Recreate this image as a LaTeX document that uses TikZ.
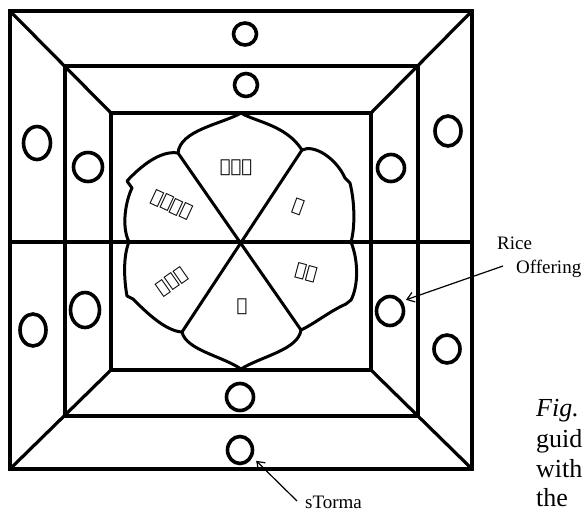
\documentclass[tikz,border=0pt]{standalone}
\usepackage{fontspec}
\setmainfont{Liberation Serif}
\usetikzlibrary{arrows.meta,calc,shapes.geometric}
\newfontfamily\tibfont{DejaVu Sans}
\begin{document}
\begin{tikzpicture}[x=1pt,y=-1pt]
\tikzset{
 sqline/.style={line width=3.2pt, line join=miter},
 torma/.style={ellipse, draw, line width=3.6pt, minimum width=25pt, minimum height=25pt, inner sep=0pt},
 petal/.style={line width=3pt, line join=round},
 lbl/.style={font=\fontsize{19}{19}\selectfont, anchor=base west, inner sep=0pt},
 pagetext/.style={font=\fontsize{26}{26}\selectfont, anchor=base west, inner sep=0pt},
 pointer/.style={line width=1.2pt, -{Straight Barb[length=7pt,width=10pt]}},
 syll/.style={font=\tibfont\fontsize{18}{18}\selectfont, inner sep=0pt},
}
\useasboundingbox (0,0) rectangle (582,512);
\fill[white] (0,0) rectangle (582,512);
% squares
\draw[sqline] (10,11) rectangle (472,469);
\draw[sqline] (65,66) rectangle (418,416);
\draw[sqline] (111,113) rectangle (371,370);
\draw[sqline] (10,11) -- (111,113);
\draw[sqline] (472,11) -- (371,113);
\draw[sqline] (10,469) -- (111,370);
\draw[sqline] (472,469) -- (371,370);
\draw[sqline] (10,242) -- (472,242);
% lotus
\draw[petal] (241,113)
 .. controls (256,122) and (286,125) .. (302,150)
 .. controls (314,144) and (336,158) .. (345,178)
 -- (350,183)
 .. controls (355,203) and (355,228) .. (351,242)
 .. controls (359,262) and (358,287) .. (351,300)
 -- (346,304)
 .. controls (330,311) and (314,324) .. (301,330)
 .. controls (298,350) and (262,356) .. (241,369)
 .. controls (222,356) and (186,350) .. (182,332)
 .. controls (165,331) and (145,311) .. (133,299)
 -- (127,296)
 .. controls (124,280) and (123,256) .. (129,242)
 .. controls (121,226) and (126,200) .. (132,188)
 -- (127,181)
 .. controls (140,167) and (160,150) .. (178,153)
 .. controls (180,130) and (222,124) .. cycle;
\draw[petal] (302,150) -- (182,332);
\draw[petal] (178,153) -- (301,330);
% syllables
\node[syll] (s1) at (236,168) {ཨོཾ};
\node[syll, rotate=-20] (s2) at (298,207) {མ};
\node[syll, rotate=-15] (s3) at (306,273) {ཎི};
\node[syll] (s4) at (242,307) {པ};
\node[syll, rotate=35] (s5) at (172,282) {དྨེ};
\node[syll, rotate=-25] (s6) at (172,205) {ཧཱུྃ};
% offerings
\node[torma, minimum width=23pt, minimum height=22pt] (cT1) at (245,34) {};
\node[torma, minimum width=23pt, minimum height=23pt] (cT2) at (246,85) {};
\node[torma, minimum width=27pt, minimum height=27pt] (cB1) at (240,397) {};
\node[torma, minimum width=25pt, minimum height=27pt] (cB2) at (240,450) {};
\node[torma, minimum width=27pt, minimum height=33pt] (cL1) at (37,143) {};
\node[torma, minimum width=29pt, minimum height=29pt] (cL2) at (88,167) {};
\node[torma, minimum width=29pt, minimum height=35pt] (cL3) at (85,310) {};
\node[torma, minimum width=26pt, minimum height=32pt] (cL4) at (33,330) {};
\node[torma, minimum width=26pt, minimum height=30pt] (cR1) at (448,131) {};
\node[torma, minimum width=27pt, minimum height=27pt] (cR2) at (391,168) {};
\node[torma, minimum width=27pt, minimum height=29pt] (cR3) at (390,311) {};
\node[torma, minimum width=26pt, minimum height=28pt] (cR4) at (447,349) {};
% labels
\node[lbl] (rice1) at (497,249) {Rice};
\node[lbl] (rice2) at (516,273) {Offering};
\coordinate (riceTail) at (503,266);
\draw[pointer, shorten >=4pt] (riceTail) -- (cR3.39);
\node[lbl] (storma) at (305,508) {sTorma};
\coordinate (stTail) at (297,501);
\draw[pointer, shorten >=5pt] (stTail) -- (cB2.-30);
% page text
\node[pagetext] (fig) at (536,416) {\textit{Fig.}};
\node[pagetext] (p1) at (536,447) {guid};
\node[pagetext] (p2) at (536,477) {with};
\node[pagetext] (p3) at (536,506) {the};
\end{tikzpicture}
\end{document}
